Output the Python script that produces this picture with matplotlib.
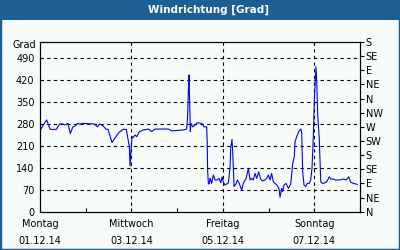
import matplotlib
matplotlib.use("Agg")
import matplotlib.pyplot as plt
from matplotlib.patches import Rectangle

# ---- data (hours since Monday 01.12.14 00:00, wind direction in degrees) ----
hours = [0.4, 2.1, 3.5, 5.3, 8.6, 10.3, 12.1, 13.0, 14.7, 15.9, 17.3, 18.5, 19.6, 20.8,
         22.6, 28.7, 30.1, 31.3, 33.1, 34.8, 35.7, 37.8, 39.2, 41.0, 41.8, 43.6, 45.3,
         46.9, 47.3, 47.8, 48.3, 49.0, 49.9, 50.8, 52.1, 54.2, 56.9, 58.6, 60.4, 67.4,
         69.1, 75.2, 77.0, 77.5, 77.9, 78.2, 78.6, 78.9, 79.3, 80.2, 81.4, 82.6, 84.9,
         86.1, 87.5, 87.8, 88.0, 88.4, 88.9, 89.3, 89.6, 90.1, 91.0, 91.9, 93.1, 94.0,
         94.9, 95.6, 96.2, 97.1, 98.9, 99.8, 100.1, 100.8, 101.2, 101.9, 102.9, 103.6,
         104.6, 105.9, 106.7, 108.2, 109.4, 110.3, 111.1, 112.0, 112.9, 113.8, 114.8,
         115.9, 116.9, 118.1, 119.0, 119.9, 120.8, 121.6, 122.5, 124.3, 125.5, 126.0,
         126.9, 127.4, 128.1, 129.2, 130.4, 131.6, 132.7, 133.5, 133.9, 135.1, 136.0,
         137.0, 137.4, 137.9, 138.6, 139.5, 140.3, 141.4, 142.1, 142.8, 143.5, 144.0,
         144.5, 144.9, 145.3, 145.8, 146.6, 147.4, 148.4, 149.6, 150.5, 151.9, 152.6,
         154.0, 154.9, 157.5, 159.2, 160.7, 162.1, 163.1, 164.5, 166.6]
degrees = [262, 279, 292, 262, 262, 279, 279, 276, 281, 249, 270, 273, 281, 279,
           281, 279, 270, 279, 273, 262, 262, 220, 233, 249, 254, 262, 262,
           207, 145, 196, 239, 236, 244, 239, 254, 260, 263, 255, 263, 263,
           257, 260, 263, 302, 387, 435, 345, 255, 281, 270, 276, 283, 281,
           270, 270, 218, 133, 88, 90, 106, 101, 90, 117, 101, 101, 106,
           92, 111, 95, 85, 92, 143, 202, 230, 186, 80, 88, 101,
           90, 69, 90, 106, 138, 101, 106, 101, 122, 106, 127,
           103, 98, 101, 106, 117, 101, 122, 95, 85, 74, 46,
           74, 64, 85, 90, 74, 88, 154, 175, 223, 244, 257,
           263, 250, 127, 85, 80, 90, 90, 101, 138, 239, 350,
           414, 461, 414, 308, 234, 95, 90, 92, 95, 111, 104,
           104, 101, 101, 104, 101, 111, 94, 90, 87]

x_tick_hours = [0, 48, 96, 144]
x_tick_labels = ["Montag\n01.12.14", "Mittwoch\n03.12.14", "Freitag\n05.12.14", "Sonntag\n07.12.14"]
y_ticks = [0, 70, 140, 210, 280, 350, 420, 490]
compass_ticks = [0, 45, 90, 135, 180, 225, 270, 315, 360, 405, 450, 495, 540]
compass_labels = ["N", "NE", "E", "SE", "S", "SW", "W", "NW", "N", "NE", "E", "SE", "S"]

BLUE = "#1c5f95"
BG = "#f8fcf8"

fig = plt.figure(figsize=(4, 2.5), dpi=100)
fig.patch.set_facecolor(BG)
# outer border and title bar
fig.patches.append(Rectangle((0, 0), 1, 1, transform=fig.transFigure, fill=False,
                             edgecolor=BLUE, linewidth=2.5, zorder=10))
fig.patches.append(Rectangle((0, 1 - 20 / 250), 1, 20 / 250, transform=fig.transFigure,
                             facecolor=BLUE, edgecolor="none", zorder=5))
fig.text(209 / 400, 1 - 10 / 250, "Windrichtung [Grad]", color="white", fontsize=7.5,
         fontweight="bold", ha="center", va="center", zorder=11)

ax = fig.add_axes([40 / 400, 1 - 211.7 / 250, 320 / 400, (211.7 - 42) / 250])
ax.set_facecolor(BG)
ax.plot(hours, degrees, color="#0000ff", linewidth=0.8, zorder=3)

ax.set_xlim(0, 168)
ax.set_ylim(0, 540)

ax.set_yticks(y_ticks)
ax.set_yticklabels([str(v) for v in y_ticks])
ax.tick_params(axis="y", which="major", length=0, pad=4, labelsize=7)
for v in y_ticks[1:]:
    ax.axhline(v, color="black", linestyle=(0, (3, 3)), linewidth=0.8, zorder=1)
for h in x_tick_hours[1:]:
    ax.axvline(h, color="black", linestyle=(0, (3, 3)), linewidth=0.8, zorder=1)

ax.set_xticks(x_tick_hours)
ax.set_xticklabels(x_tick_labels, linespacing=1.9)
ax.set_xticks(list(range(0, 169, 24)), minor=True)
ax.tick_params(axis="x", which="both", direction="in", length=3, width=0.8,
               labelsize=7, pad=5)

ax2 = ax.twinx()
ax2.set_ylim(0, 540)
ax2.set_yticks(compass_ticks)
ax2.set_yticklabels(compass_labels)
ax2.tick_params(axis="y", direction="out", length=3, width=0.8, pad=1, labelsize=7)

for a in (ax, ax2):
    for s in a.spines.values():
        s.set_color("black")
        s.set_linewidth(0.8)

ax.text(-0.013, 0.98, "Grad", transform=ax.transAxes, ha="right", va="center", fontsize=7)

fig.savefig("out.png", dpi=100, facecolor=BG)
